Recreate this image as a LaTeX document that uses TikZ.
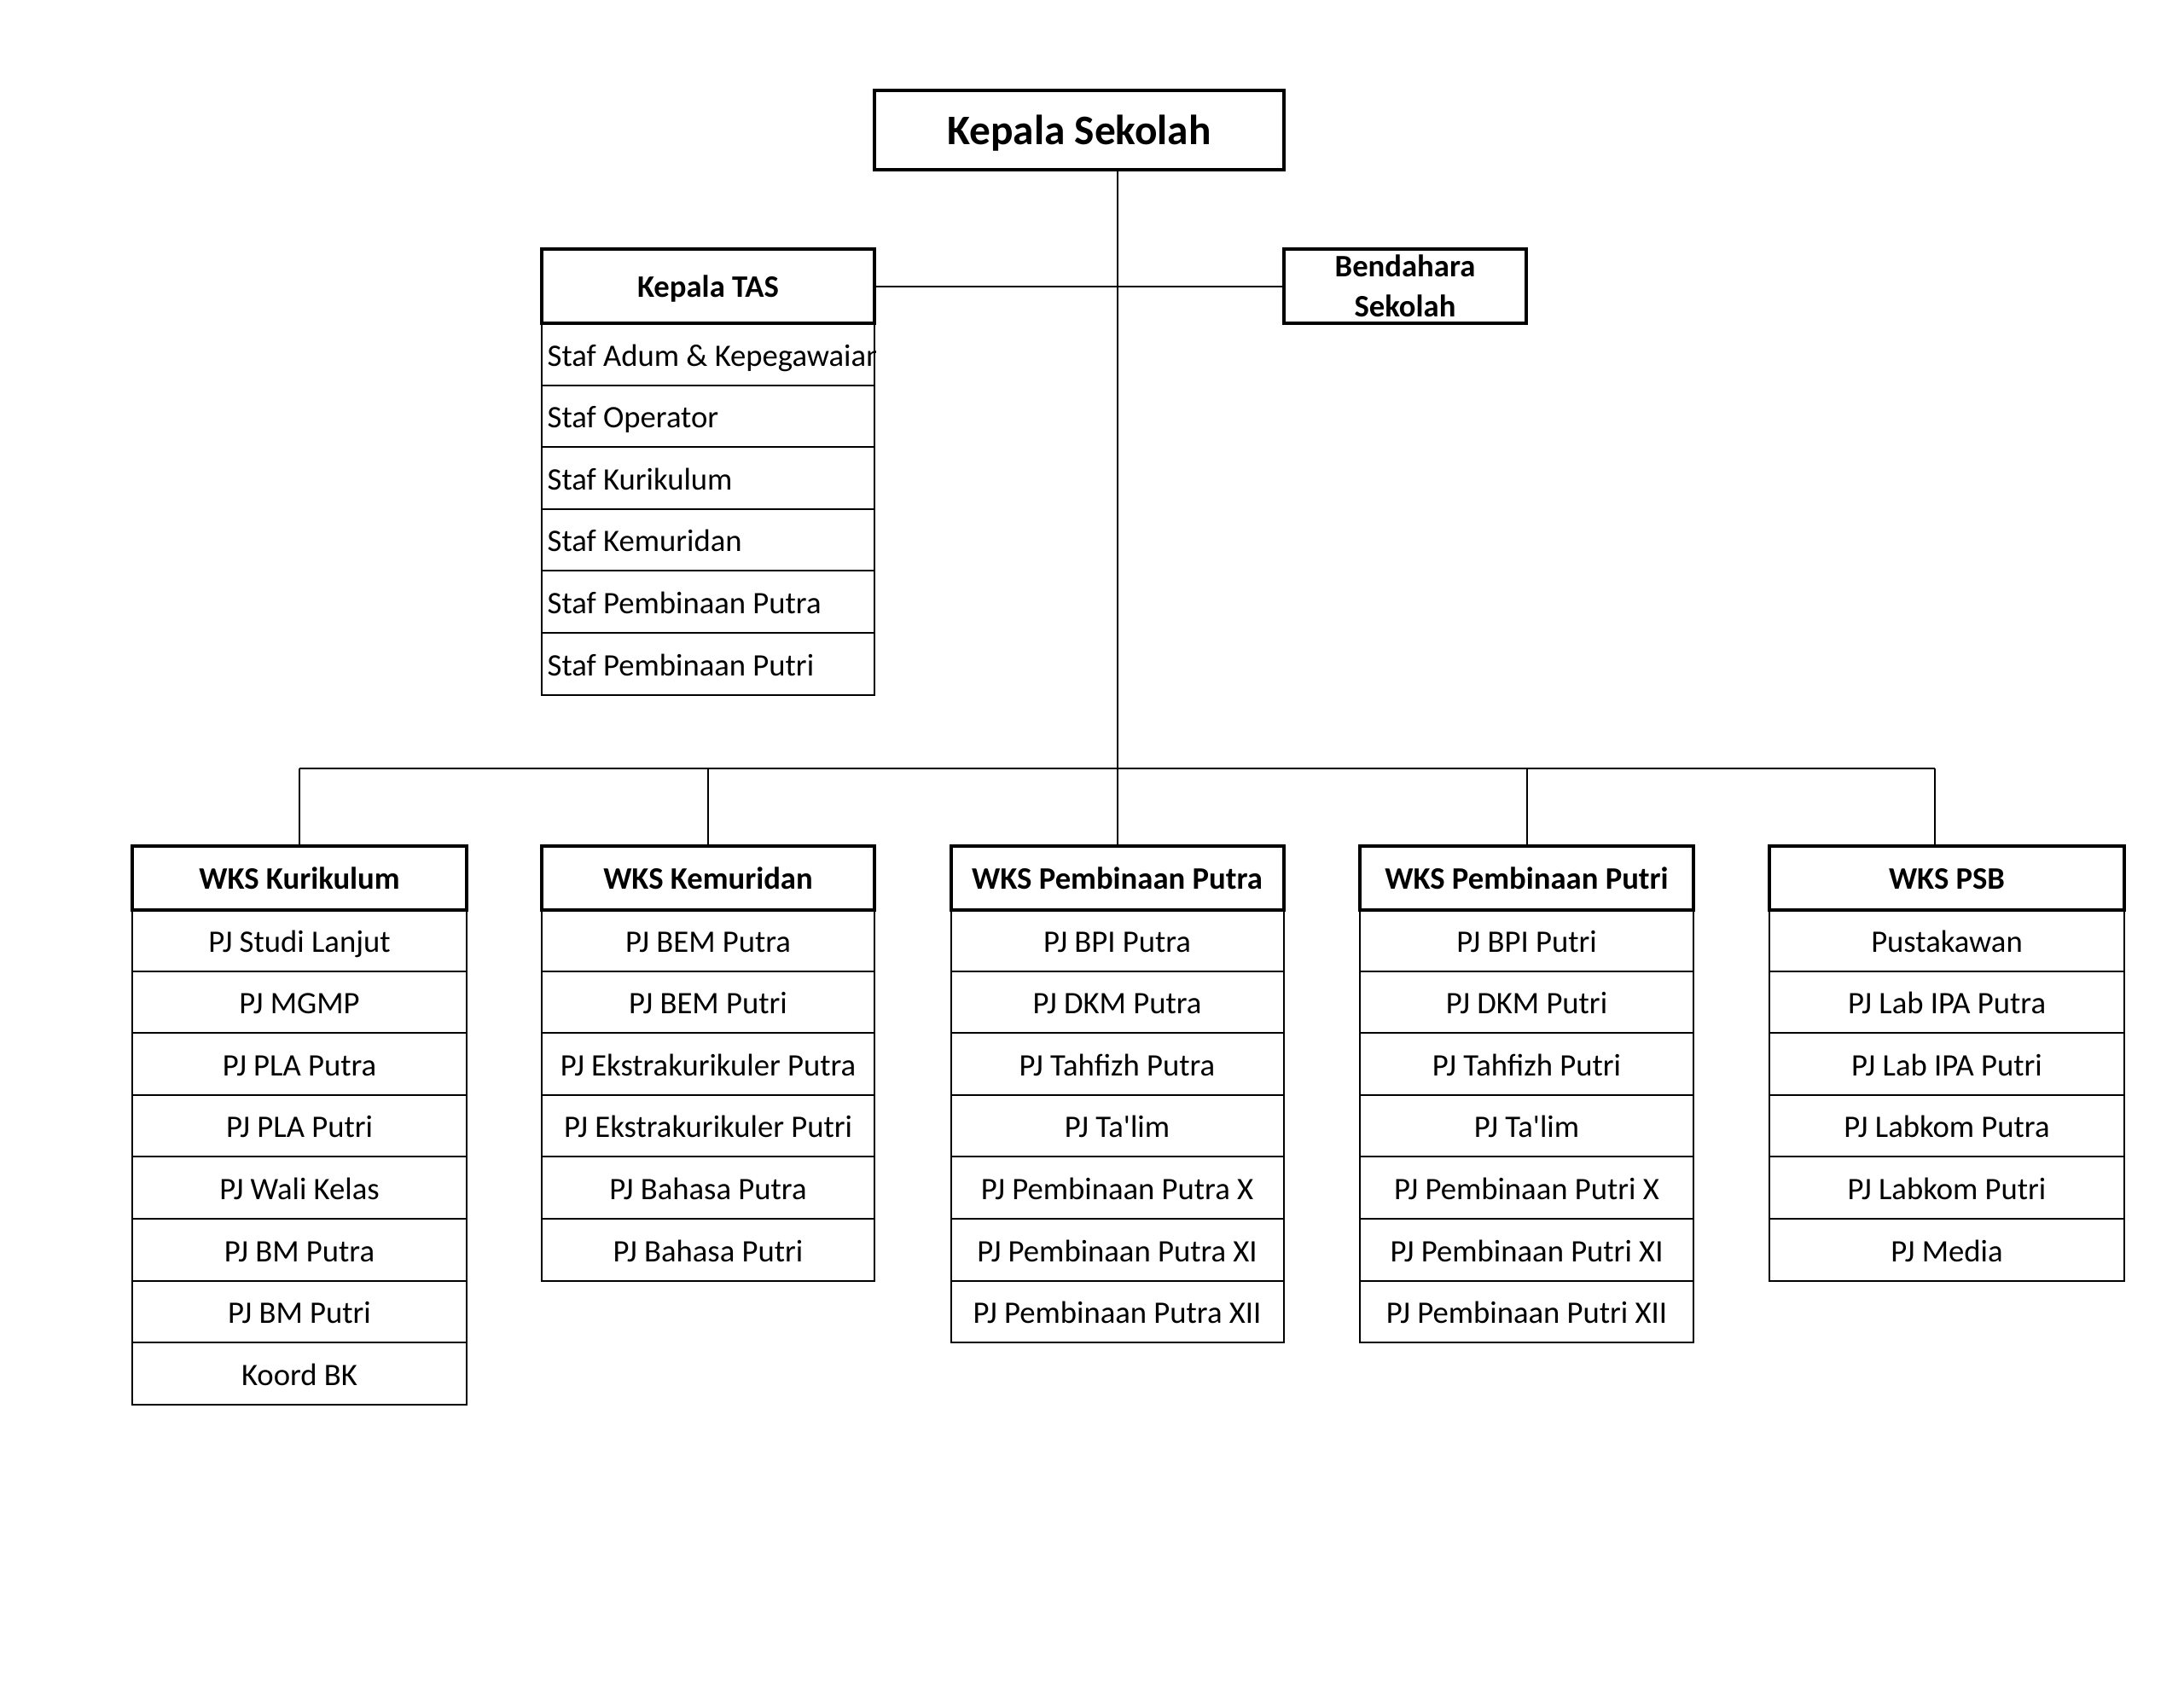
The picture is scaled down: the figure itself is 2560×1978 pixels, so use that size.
\documentclass[tikz,border=0pt]{standalone}
\usepackage{fontspec}
\newfontfamily\carlito{Carlito}
\begin{document}
\begin{tikzpicture}[x=0.3pt,y=-0.3pt,
  every node/.style={font=\carlito\fontsize{11}{14}\selectfont},
  box/.style={draw, line width=1.2pt, inner sep=0pt, align=center,
    text height=10pt, text depth=2.2pt,
    font=\carlito\bfseries\fontsize{11}{14}\selectfont},
  cell/.style={draw, line width=0.6pt, inner sep=0pt, minimum height=21.78pt, align=center,
    text height=10pt, text depth=1.7pt},
  rowtext/.style={anchor=west, inner sep=0pt, text height=10pt, text depth=1.7pt},
  conn/.style={line width=0.6pt}]
\fill[white] (0,0) rectangle (2560,1978);
\useasboundingbox (0,0) rectangle (2560,1978);

% top level
\node[box, minimum width=144pt, minimum height=27.9pt, text height=11pt, text depth=0.7pt,
  font=\carlito\bfseries\fontsize{14.8}{17}\selectfont] (ks) at (1265,152.5) {Kepala Sekolah};

% Kepala TAS with staff rows
\foreach \t [count=\i] in {Staf Adum \& Kepegawaian, Staf Operator, Staf Kurikulum,
    Staf Kemuridan, Staf Pembinaan Putra, Staf Pembinaan Putri}{
  \node[cell, minimum width=117pt] (tas-\i) at (830,{379+(\i-0.5)*72.6}) {};
  \begin{scope}
    \clip (tas-\i.north west) rectangle (tas-\i.south east);
    \node[rowtext] (tas-\i-t) at ([xshift=2.1pt]tas-\i.west) {\t};
  \end{scope}
}
\node[box, minimum width=117pt, minimum height=26.1pt] (tas) at (830,335.5) {Kepala TAS};

\node[box, minimum width=85.2pt, minimum height=26.1pt, text height=, text depth=] (bend) at (1647,335.5) {Bendahara\\Sekolah};

% WKS columns
\foreach \t [count=\i] in {PJ Studi Lanjut, PJ MGMP, PJ PLA Putra, PJ PLA Putri,
    PJ Wali Kelas, PJ BM Putra, PJ BM Putri, Koord BK}
  \node[cell, minimum width=117.6pt] (c1-\i) at (351,{1066+(\i-0.5)*72.6}) {\t};
\node[box, minimum width=117.6pt, minimum height=22.5pt] (h1) at (351,1029) {WKS Kurikulum};

\foreach \t [count=\i] in {PJ BEM Putra, PJ BEM Putri, PJ Ekstrakurikuler Putra,
    PJ Ekstrakurikuler Putri, PJ Bahasa Putra, PJ Bahasa Putri}
  \node[cell, minimum width=117pt] (c2-\i) at (830,{1066+(\i-0.5)*72.6}) {\t};
\node[box, minimum width=117pt, minimum height=22.5pt] (h2) at (830,1029) {WKS Kemuridan};

\foreach \t [count=\i] in {PJ BPI Putra, PJ DKM Putra, PJ Tahfizh Putra, PJ Ta'lim,
    PJ Pembinaan Putra X, PJ Pembinaan Putra XI, PJ Pembinaan Putra XII}
  \node[cell, minimum width=117pt] (c3-\i) at (1309.5,{1066+(\i-0.5)*72.6}) {\t};
\node[box, minimum width=117pt, minimum height=22.5pt] (h3) at (1309.5,1029) {WKS Pembinaan Putra};

\foreach \t [count=\i] in {PJ BPI Putri, PJ DKM Putri, PJ Tahfizh Putri, PJ Ta'lim,
    PJ Pembinaan Putri X, PJ Pembinaan Putri XI, PJ Pembinaan Putri XII}
  \node[cell, minimum width=117.3pt] (c4-\i) at (1789.5,{1066+(\i-0.5)*72.6}) {\t};
\node[box, minimum width=117.3pt, minimum height=22.5pt] (h4) at (1789.5,1029) {WKS Pembinaan Putri};

\foreach \t [count=\i] in {Pustakawan, PJ Lab IPA Putra, PJ Lab IPA Putri,
    PJ Labkom Putra, PJ Labkom Putri, PJ Media}
  \node[cell, minimum width=124.8pt] (c5-\i) at (2282,{1066+(\i-0.5)*72.6}) {\t};
\node[box, minimum width=124.8pt, minimum height=22.5pt] (h5) at (2282,1029) {WKS PSB};

% connectors
\coordinate (hub) at (1309.5,901);
\coordinate (d5) at (2268,901);
\draw[conn] (ks.south -| hub) -- (hub);
\draw[conn] (tas.east) -- (bend.west);
\draw[conn] (h1.north |- hub) -- (d5);
\foreach \k in {1,...,4}
  \draw[conn] (h\k.north |- hub) -- (h\k.north);
\draw[conn] (d5) -- (d5 |- h5.north);
\end{tikzpicture}
\end{document}
